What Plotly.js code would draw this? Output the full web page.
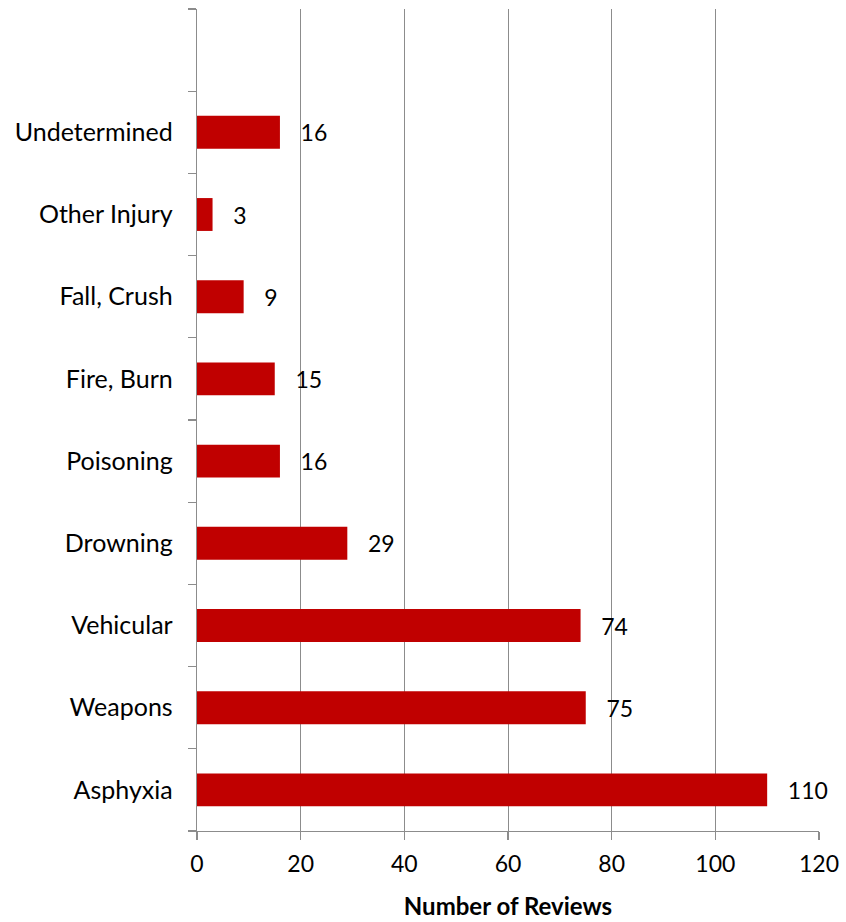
<!DOCTYPE html>
<html>
<head>
<meta charset="utf-8">
<script src="https://cdn.plot.ly/plotly-3.0.1.min.js"></script>
<style>html,body{margin:0;padding:0;background:#fff;}#chart{width:846px;height:922px;}</style>
</head>
<body>
<div id="chart"></div>
<script>
const categories = ["Asphyxia", "Weapons", "Vehicular", "Drowning", "Poisoning", "Fire, Burn", "Fall, Crush", "Other Injury", "Undetermined"];
const reviews = [110, 75, 74, 29, 16, 15, 9, 3, 16];
const xTicks = [0, 20, 40, 60, 80, 100, 120];

const FONT = "Lato, 'Open Sans', sans-serif";
const GRID = "#8c8c8c";

const trace = {
  type: "bar",
  orientation: "h",
  y: categories,
  x: reviews,
  text: reviews.map(v => "\u00a0\u00a0\u00a0" + v),
  textposition: "outside",
  cliponaxis: false,
  textfont: {family: FONT, size: 23, color: "#000"},
  marker: {color: "#C00000"},
  width: 0.4,
  hoverinfo: "x+y"
};
// empty top slot as in the original
const blank = {type: "bar", orientation: "h", y: [" "], x: [null], showlegend: false, hoverinfo: "skip"};

const layout = {
  width: 846, height: 922,
  margin: {l: 197, r: 27, t: 9, b: 91},
  paper_bgcolor: "#fff", plot_bgcolor: "#fff",
  showlegend: false,
  font: {family: FONT, size: 23, color: "#000"},
  xaxis: {
    range: [0, 120],
    tickvals: xTicks,
    ticktext: xTicks.map(String),
    showgrid: true, gridcolor: GRID, gridwidth: 1,
    zeroline: false,
    showline: true, linecolor: GRID, linewidth: 1.3,
    ticks: "outside", ticklen: 8, tickcolor: GRID, tickwidth: 1.3,
    ticklabelstandoff: 4,
    tickfont: {family: FONT, size: 23},
    title: {text: "<b>Number of Reviews</b>", font: {family: FONT, size: 24}, standoff: 22}
  },
  yaxis: {
    type: "category",
    categoryorder: "array",
    categoryarray: categories.concat([" "]),
    range: [-0.5, 9.5],
    showline: true, linecolor: GRID, linewidth: 1.3,
    showgrid: false, zeroline: false,
    ticks: "outside", tickson: "boundaries", ticklen: 8, tickcolor: GRID, tickwidth: 1.3,
    ticklabelstandoff: 18,
    tickfont: {family: FONT, size: 25},
    automargin: false
  },
  bargap: 0.6
};

Plotly.newPlot("chart", [trace, blank], layout, {displayModeBar: false, staticPlot: true});
</script>
</body>
</html>
